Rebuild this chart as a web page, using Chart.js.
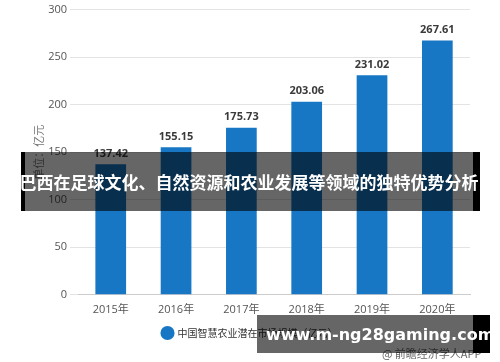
<!DOCTYPE html>
<html>
<head>
<meta charset="utf-8">
<script src="https://cdn.jsdelivr.net/npm/chart.js@4/dist/chart.umd.min.js"></script>
<style>
  html, body { margin: 0; padding: 0; background: #fff; }
  #wrap { position: relative; width: 500px; height: 362px; overflow: hidden; }
  canvas { display: block; }
  .banner {
    position: absolute; left: 21px; top: 152px; width: 459px; height: 59px;
    background: rgba(0, 0, 0, 0.6);
    border-left: 4px solid #000; border-right: 7px solid #000; box-sizing: border-box;
    color: #fff; font: bold 17px "Noto Sans CJK SC", sans-serif;
    display: flex; align-items: center; justify-content: center; white-space: nowrap;
  }
  .src {
    position: absolute; left: 382px; top: 345px; color: #666;
    font: 11px "Noto Sans CJK SC", sans-serif;
  }
  .site {
    position: absolute; left: 257px; top: 315px; width: 233px; height: 38px;
    background: rgba(0, 0, 0, 0.6); border-right: 17px solid #000; box-sizing: border-box;
    color: #fff; font: bold 16px "DejaVu Sans", sans-serif;
    display: flex; align-items: center; padding-left: 9px; white-space: nowrap;
  }
</style>
</head>
<body>
<div id="wrap">
  <canvas id="grafico" width="500" height="362"></canvas>
  <div class="src">@ 前瞻经济学人APP</div>
  <div class="banner">巴西在足球文化、自然资源和农业发展等领域的独特优势分析</div>
  <div class="site">www.m-ng28gaming.com</div>
</div>
<script>
const anni = ['2015年', '2016年', '2017年', '2018年', '2019年', '2020年'];
const valori = [137.42, 155.15, 175.73, 203.06, 231.02, 267.61];
const tickY = [0, 50, 100, 150, 200, 250, 300];

// etichette sopra le barre
const etichette = {
  id: 'etichette',
  afterDatasetsDraw(chart) {
    const ctx = chart.ctx;
    const meta = chart.getDatasetMeta(0);
    ctx.save();
    ctx.fillStyle = '#3a3a3a';
    ctx.font = 'bold 11px "Open Sans", "DejaVu Sans", sans-serif';
    ctx.textAlign = 'center';
    ctx.textBaseline = 'bottom';
    meta.data.forEach((bar, i) => {
      ctx.fillText(valori[i].toFixed(2), bar.x, bar.y - 5);
    });
    ctx.restore();
  }
};

new Chart(document.getElementById('grafico'), {
  type: 'bar',
  data: {
    labels: anni,
    datasets: [{
      label: '中国智慧农业潜在市场规模（亿元）',
      data: valori,
      backgroundColor: '#1777c4',
      borderWidth: 0,
      categoryPercentage: 1,
      barPercentage: 0.47
    }]
  },
  options: {
    responsive: false,
    animation: false,
    layout: { padding: { left: 30, right: 30, top: -4, bottom: 14 } },
    plugins: {
      tooltip: { enabled: false },
      legend: {
        position: 'bottom',
        labels: {
          usePointStyle: true,
          pointStyle: 'circle',
          boxWidth: 10,
          boxHeight: 10,
          color: '#333',
          padding: 6,
          font: { size: 10, family: '"Noto Sans CJK SC", sans-serif' }
        }
      }
    },
    scales: {
      x: {
        grid: { display: false },
        border: { color: '#ccc', width: 1 },
        ticks: { color: '#555', padding: 0, font: { size: 11, family: '"Open Sans", "Noto Sans CJK SC", sans-serif' } },
        afterFit: axis => { axis.height += 6; } // spazio tra etichette e legenda
      },
      y: {
        min: 0,
        max: 300,
        afterBuildTicks: axis => { axis.ticks = tickY.map(v => ({ value: v })); },
        grid: { color: '#e3e3e3' },
        border: { display: false },
        ticks: { color: '#555', padding: 3, font: { size: 11, family: '"Open Sans", sans-serif' } },
        title: {
          display: true,
          text: '单位：亿元',
          color: '#777',
          padding: { top: 2, bottom: 0 },
          font: { size: 11, family: '"Noto Sans CJK SC", sans-serif' }
        }
      }
    }
  },
  plugins: [etichette]
});
</script>
</body>
</html>
